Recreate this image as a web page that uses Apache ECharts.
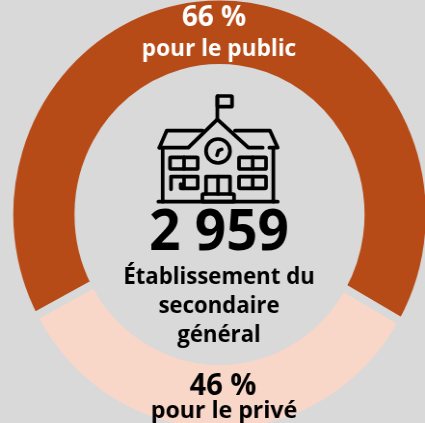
<!DOCTYPE html>
<html><head><meta charset="utf-8">
<script src="https://cdn.jsdelivr.net/npm/echarts@6/dist/echarts.min.js"></script>
<style>html,body{margin:0;padding:0;background:#d9d9d9;overflow:hidden}
#c{width:441px;height:423px;transform:scaleX(0.9637);transform-origin:0 0}</style>
</head><body><div id="c"></div>
<script>
const categories = ['pour le public', 'pour le privé'];
const shares = [66, 34];
const shownLabels = ['66 %', '46 %'];
const total = '2 959';
const centreLines = ['Établissement du', 'secondaire', 'général'];
const k = 0.9637, F = '"Open Sans","Noto Sans",sans-serif', bg = '#d9d9d9';
const sx = x => x / k;
const txt = (x, y, s, size, color) => ({type:'text', z:100, x:sx(x), y, style:{text:s, x:0, y:0, align:'center', verticalAlign:'middle', font:`700 ${size}px ${F}`, fill:color}});
const st = {stroke:'#000', lineWidth:11, fill:'none', lineJoin:'round', lineCap:'round'};
const pl = pts => ({type:'polyline', shape:{points:pts}, style:st});
const rc = (x,y,w,h,r) => ({type:'rect', shape:{x,y,width:w,height:h,r:r||3}, style:st});
const icon = [
  pl([[322,115],[322,48]]), rc(322,48,44,32),
  pl([[148,203],[235,203],[322,118],[415,203],[458,203]]),
  pl([[148,203],[170,152],[278,152]]), pl([[375,152],[480,152],[503,203],[478,203]]),
  pl([[158,203],[158,365]]), pl([[490,203],[490,365]]), pl([[145,365],[503,365]]),
  {type:'circle', shape:{cx:324,cy:213,r:36}, style:st},
  pl([[321,226],[325,212],[335,208]]),
  rc(180,232,83,35), pl([[222,232],[222,267]]),
  pl([[183,328],[183,290],[263,290],[263,325],[212,325],[212,312]]), pl([[222,290],[222,325]]),
  rc(387,232,81,35), pl([[428,232],[428,267]]),
  rc(387,290,81,35), pl([[428,290],[428,325]]),
  pl([[288,342],[288,290],[360,290],[360,342]]), pl([[324,290],[324,342]]),
  rc(277,342,95,23)
];
const chart = echarts.init(document.getElementById('c'), null, {renderer:'canvas'});
chart.setOption({
  backgroundColor: bg, animation:false,
  series:[{type:'pie', center:[sx(219.5),214.5], radius:[146.5,218], startAngle:208, clockwise:true,
    silent:true, label:{show:false}, labelLine:{show:false},
    itemStyle:{borderColor:bg, borderWidth:8},
    data: categories.map((name,i)=>({name, value:shares[i], itemStyle:{color:['#b74b17','#f8d7c9'][i]}}))}],
  graphic:[
    {type:'group', z:100, x:sx(110), y:80, scaleX:1/(3*k), scaleY:1/3, children:icon.map(e=>Object.assign(e,{z:100}))},
    txt(214,18,shownLabels[0],29,'#fff'), txt(219,49,categories[0],23.5,'#fff'),
    txt(219,234,total,57,'#000'),
    txt(219,277,centreLines[0],23,'#000'), txt(219,306,centreLines[1],23,'#000'), txt(219,335,centreLines[2],23,'#000'),
    txt(223,386,shownLabels[1],30,'#000'), txt(224,411,categories[1],24,'#000')
  ]
});
</script></body></html>
